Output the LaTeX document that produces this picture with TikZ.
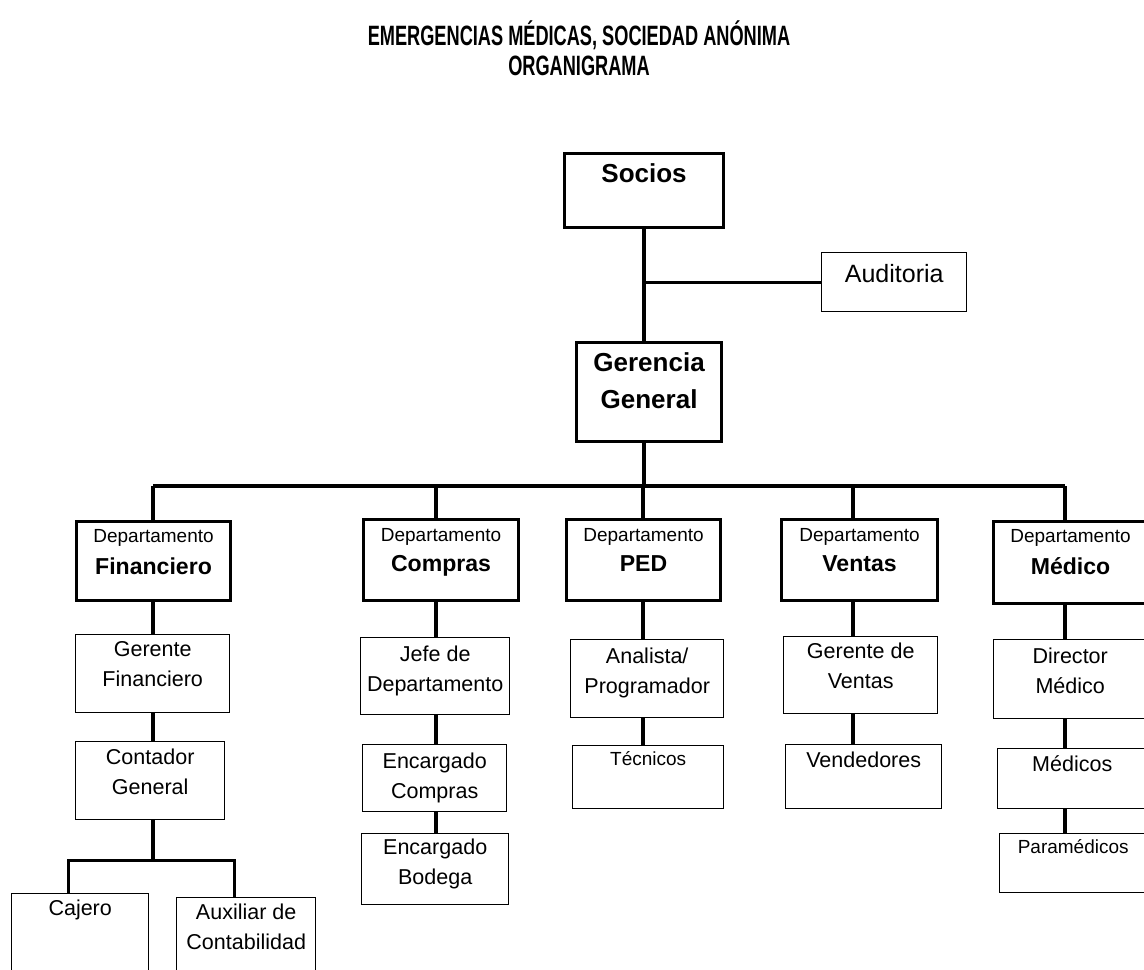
\documentclass[tikz,border=0pt]{standalone}
\usepackage{fontspec}
\setmainfont{Liberation Sans}
\usepackage{graphicx}
\usetikzlibrary{calc}

\newcommand\pxu{0.025cm}
\newcommand\titlefont{\fontsize{19.9pt}{21.3pt}\selectfont\bfseries}
\newcommand\topfont{\fontsize{18.5pt}{26.3pt}\selectfont\bfseries}
\newcommand\audfont{\fontsize{17.8pt}{21.3pt}\selectfont}
\newcommand\depttxt{\fontsize{16.4pt}{20pt}\selectfont\bfseries}
\newcommand\normtxt{\fontsize{15.3pt}{21.3pt}\selectfont}
\newcommand\smalltxt{\fontsize{13.5pt}{18pt}\selectfont}

\begin{document}
\begin{tikzpicture}[x=0.025cm, y=-0.025cm,
    thickbox/.style={draw, line width=2.2pt, inner sep=0, anchor=north west},
    thinbox/.style={draw, line width=1pt, inner sep=0, anchor=north west},
    wh/.style 2 args={minimum width=#1*\pxu, minimum height=#2*\pxu},
    txt/.style={anchor=north, inner sep=0, align=center, font=\normtxt},
    title/.style={anchor=base, inner sep=0, font=\titlefont},
    link/.style={line width=2.2pt}]

        % page frame, in pixels of the reference
        \useasboundingbox (0,0) rectangle (1144,969);

        % title
        \node[title] (title-a) at (579,45) {\scalebox{0.65}[1]{EMERGENCIAS MÉDICAS, SOCIEDAD ANÓNIMA}};
        \node[title] (title-b) at (579,75) {\scalebox{0.65}[1]{ORGANIGRAMA}};

        % top of the chart
        \node[thickbox, wh={159}{74}] (socios) at (563,152) {};
        \node[thinbox, wh={145}{59}] (audit) at (821,252) {};
        \node[thickbox, wh={145}{99}] (gerencia) at (575,341) {};

        \node[txt, font=\topfont] (socios-t) at ($(socios.north)+(0,11)$) {Socios};
        \node[txt, font=\audfont] (audit-t) at ($(audit.north)+(0,12)$) {Auditoria};
        \node[txt, font=\topfont] (gerencia-t) at ($(gerencia.north)+(0,11)$) {Gerencia\\General};

        % departments
        \node[thickbox, wh={154}{79}] (fin) at (75,520) {};
        \node[thickbox, wh={155}{81}] (compras) at (362,518) {};
        \node[thickbox, wh={154}{81}] (ped) at (565,518) {};
        \node[thickbox, wh={156}{81}] (ventas) at (780,518) {};
        \node[thickbox, wh={154}{82}] (medico) at (992,520) {};

        \node[txt, font=\smalltxt] (fin-a) at ($(fin.north)+(0,9)$) {Departamento};
        \node[txt, font=\depttxt] (fin-b) at ($(fin.north)+(0,37)$) {Financiero};
        \node[txt, font=\smalltxt] (compras-a) at ($(compras.north)+(0,10)$) {Departamento};
        \node[txt, font=\depttxt] (compras-b) at ($(compras.north)+(0,37)$) {Compras};
        \node[txt, font=\smalltxt] (ped-a) at ($(ped.north)+(0,10)$) {Departamento};
        \node[txt, font=\depttxt] (ped-b) at ($(ped.north)+(0,37)$) {PED};
        \node[txt, font=\smalltxt] (ventas-a) at ($(ventas.north)+(0,10)$) {Departamento};
        \node[txt, font=\depttxt] (ventas-b) at ($(ventas.north)+(0,37)$) {Ventas};
        \node[txt, font=\smalltxt] (medico-a) at ($(medico.north)+(0,9)$) {Departamento};
        \node[txt, font=\depttxt] (medico-b) at ($(medico.north)+(0,37)$) {Médico};

        % positions under the departments
        \node[thinbox, wh={154}{78}] (gfin) at (75,634) {};
        \node[thinbox, wh={149}{78}] (cgen) at (75,741) {};
        \node[thinbox, wh={137}{92}] (cajero) at (11,893) {};
        \node[thinbox, wh={139}{88}] (aux) at (176,897) {};
        \node[thinbox, wh={149}{77}] (jefe) at (360,637) {};
        \node[thinbox, wh={144}{67}] (ecomp) at (362,744) {};
        \node[thinbox, wh={147}{71}] (ebod) at (361,833) {};
        \node[thinbox, wh={153}{78}] (analista) at (570,639) {};
        \node[thinbox, wh={151}{63}] (tecn) at (572,745) {};
        \node[thinbox, wh={154}{77}] (gven) at (783,636) {};
        \node[thinbox, wh={156}{64}] (vend) at (785,744) {};
        \node[thinbox, wh={153}{79}] (dirmed) at (993,639) {};
        \node[thinbox, wh={149}{60}] (medicos) at (997,748) {};
        \node[thinbox, wh={147}{59}] (param) at (999,833) {};

        \node[txt] (gfin-t) at ($(gfin.north)+(0,7.5)$) {Gerente\\Financiero};
        \node[txt] (cgen-t) at ($(cgen.north)+(0,7.5)$) {Contador\\General};
        \node[txt] (cajero-t) at ($(cajero.north)+(0,6.5)$) {Cajero};
        \node[txt] (aux-t) at ($(aux.north)+(0,6.5)$) {Auxiliar de\\Contabilidad};
        \node[txt] (jefe-t) at ($(jefe.north)+(0,8.5)$) {Jefe de\\Departamento};
        \node[txt] (ecomp-t) at ($(ecomp.north)+(0,8.5)$) {Encargado\\Compras};
        \node[txt] (ebod-t) at ($(ebod.north)+(0,5.5)$) {Encargado\\Bodega};
        \node[txt] (analista-t) at ($(analista.north)+(0,8.5)$) {Analista/\\Programador};
        \node[txt, font=\smalltxt] (tecn-t) at ($(tecn.north)+(0,6.3)$) {Técnicos};
        \node[txt] (gven-t) at ($(gven.north)+(0,6.5)$) {Gerente de\\Ventas};
        \node[txt] (vend-t) at ($(vend.north)+(0,7.5)$) {Vendedores};
        \node[txt] (dirmed-t) at ($(dirmed.north)+(0,8.5)$) {Director\\Médico};
        \node[txt] (medicos-t) at ($(medicos.north)+(0,7.5)$) {Médicos};
        \node[txt, font=\smalltxt] (param-t) at ($(param.north)+(0,6.3)$) {Paramédicos};

        % trunk and bus
        \coordinate (bus) at (644,486);
        \coordinate (c1) at (153,486);
        \coordinate (c2) at (436,486);
        \coordinate (c3) at (643,486);
        \coordinate (c4) at (853,486);
        \coordinate (c5) at (1065,486);
        \draw[link] (socios.south -| bus) -- (gerencia.north -| bus);
        \draw[link] (audit.west -| bus) -- (audit.west);
        \draw[link] (gerencia.south -| bus) -- (bus);
        \draw[link] (c1) -- (c5);

        % columns
        \draw[link] (c1) -- (fin.north -| c1)
            (fin.south -| c1) -- (gfin.north -| c1)
            (gfin.south -| c1) -- (cgen.north -| c1);
        \draw[link] (c2) -- (compras.north -| c2)
            (compras.south -| c2) -- (jefe.north -| c2)
            (jefe.south -| c2) -- (ecomp.north -| c2)
            (ecomp.south -| c2) -- (ebod.north -| c2);
        \draw[link] (c3) -- (ped.north -| c3)
            (ped.south -| c3) -- (analista.north -| c3)
            (analista.south -| c3) -- (tecn.north -| c3);
        \draw[link] (c4) -- (ventas.north -| c4)
            (ventas.south -| c4) -- (gven.north -| c4)
            (gven.south -| c4) -- (vend.north -| c4);
        \draw[link] (c5) -- (medico.north -| c5)
            (medico.south -| c5) -- (dirmed.north -| c5)
            (dirmed.south -| c5) -- (medicos.north -| c5)
            (medicos.south -| c5) -- (param.north -| c5);

        % fork under the accountant
        \draw[link] (cgen.south -| c1) -- ++(0,40) coordinate (fork);
        \draw[link] ($(cajero.north)+(-11.5,0)$) |- (fork) -| ($(aux.north)+(-11.5,0)$);
\end{tikzpicture}
\end{document}
